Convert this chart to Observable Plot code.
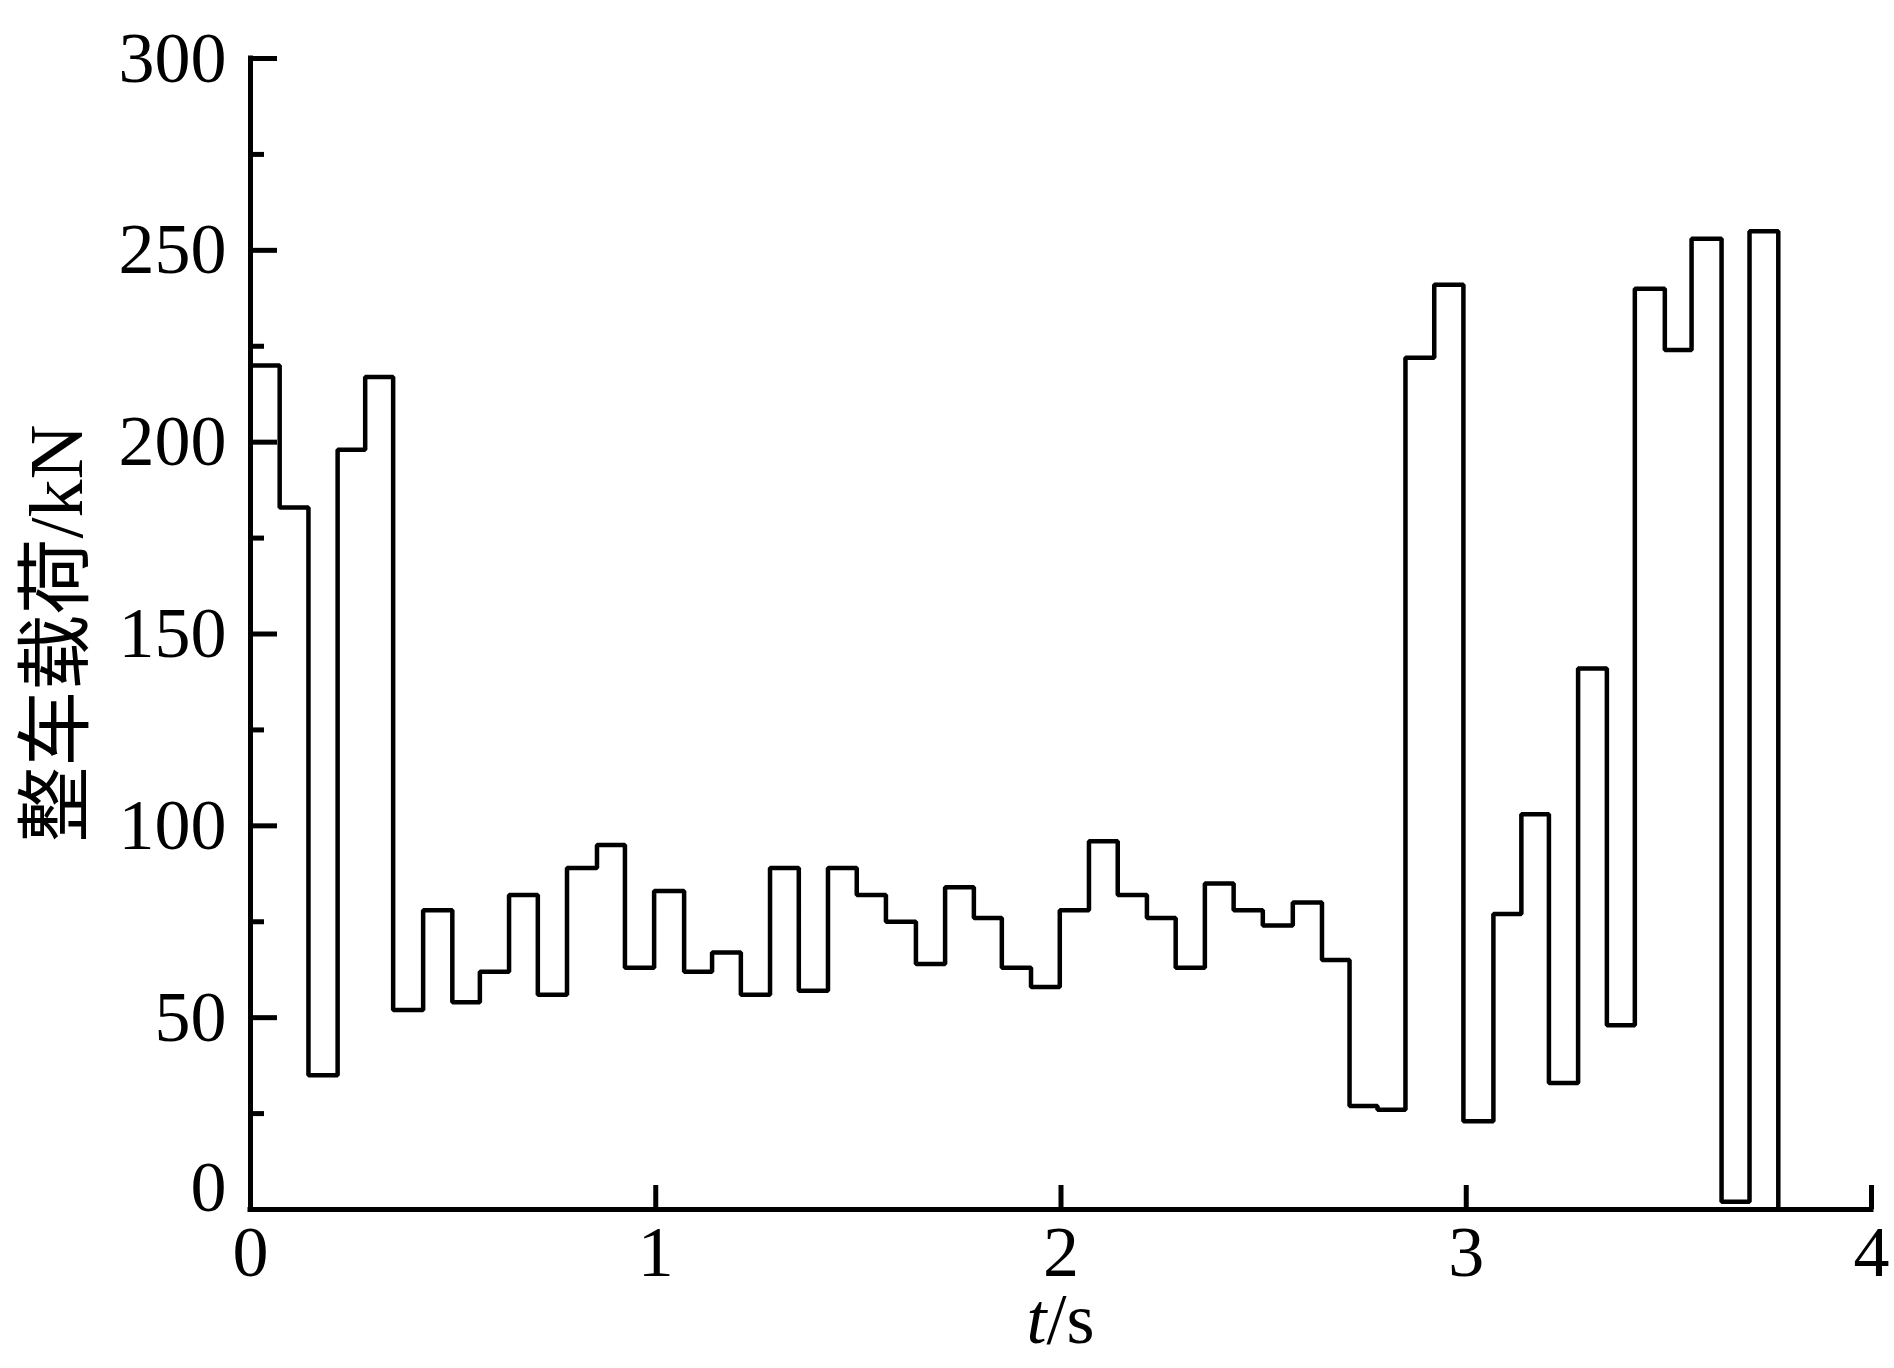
<!DOCTYPE html>
<html><head><meta charset="utf-8">
<script src="https://cdn.jsdelivr.net/npm/d3@7"></script>
<script src="https://cdn.jsdelivr.net/npm/@observablehq/plot@0.6"></script>
<style>html,body{margin:0;padding:0;background:#fff;overflow:hidden}svg{display:block}</style>
</head><body><div id="chart"></div>
<script>
// start time (s) of each constant-load step
const startTimes = [0, 0.072, 0.143, 0.215, 0.283, 0.352, 0.426, 0.498, 0.566, 0.638,
  0.709, 0.781, 0.855, 0.924, 0.996, 1.07, 1.139, 1.21, 1.282, 1.353,
  1.425, 1.496, 1.568, 1.642, 1.714, 1.785, 1.854, 1.926, 1.997, 2.069,
  2.14, 2.212, 2.283, 2.355, 2.426, 2.498, 2.572, 2.644, 2.712, 2.781,
  2.85, 2.921, 2.993, 3.067, 3.136, 3.204, 3.276, 3.347, 3.416, 3.49,
  3.556, 3.63, 3.699];
// load (kN) of each step
const loads = [220, 183, 35, 198, 217, 52, 78, 54, 62, 82,
  56, 89, 95, 63, 83, 62, 67, 56, 89, 57,
  89, 82, 75, 64, 84, 76, 63, 58, 78, 96,
  82, 76, 63, 85, 78, 74, 80, 65, 27, 26,
  222, 241, 23, 77, 103, 33, 141, 48, 240, 224,
  253, 2, 255];
const endTime = 3.77;
const endLoad = 0;

const xTicks = [0, 1, 2, 3, 4];
const xTickMarks = [1, 2, 3, 4];
const yMajor = [50, 100, 150, 200, 250, 300];
const yMinor = [25, 75, 125, 175, 225, 275];
const yZero = [0];
const yLabel = "整车载荷/kN";
const xLabelVar = "t";
const xLabelUnit = "/s";

const pts = startTimes.map((t, i) => ({t, v: loads[i]}));
pts.push({t: endTime, v: endLoad});

const FS = 72;
const SW = 4.5;
const AW = 5;
const plot = Plot.plot({
  width: 1894, height: 1368,
  marginLeft: 250, marginRight: 23, marginTop: 58, marginBottom: 159,
  x: {domain: [0, 4]},
  y: {domain: [0, 300]},
  style: {fontFamily: "'Liberation Serif', 'Noto Sans CJK SC', serif", background: "#fff", color: "#000", overflow: "visible"},
  marks: [
    Plot.line(pts, {x: "t", y: "v", curve: "step-after", stroke: "#000", strokeWidth: SW, strokeLinejoin: "miter"}),
    Plot.ruleX([0], {stroke: "#000", strokeWidth: AW, strokeLinecap: "square"}),
    Plot.ruleY([0], {stroke: "#000", strokeWidth: AW, strokeLinecap: "square"}),
    Plot.axisY({ticks: yMajor, tickSize: -27, text: null, label: null, strokeWidth: AW}),
    Plot.axisY({ticks: yMinor, tickSize: -14, text: null, label: null, strokeWidth: AW}),
    Plot.axisY({ticks: yMajor, tickSize: 0, tickPadding: 24, fontSize: FS, label: null, tickFormat: "d"}),
    Plot.axisY({ticks: yZero, tickSize: 0, tickPadding: 24, fontSize: FS, label: null, dy: -22, tickFormat: "d"}),
    Plot.axisX({ticks: xTickMarks, tickSize: -24, text: null, label: null, strokeWidth: AW}),
    Plot.axisX({ticks: xTicks, tickSize: 0, tickPadding: 15, fontSize: FS, label: null, tickFormat: "d"})
  ]
});

const svg = d3.select(plot);
const xs = plot.scale("x"), ys = plot.scale("y");
const yMid = (ys.apply(0) + ys.apply(300)) / 2;
svg.append("text")
  .attr("transform", `translate(82,${yMid}) rotate(-90)`)
  .attr("text-anchor", "middle")
  .attr("font-size", 76)
  .attr("font-family", "'Liberation Serif', 'Noto Sans CJK SC', serif")
  .attr("fill", "#000")
  .text(yLabel);
const xl = svg.append("text")
  .attr("transform", `translate(${xs.apply(2)},${ys.apply(0) + 134})`)
  .attr("text-anchor", "middle")
  .attr("font-size", FS)
  .attr("font-family", "'Liberation Serif', serif")
  .attr("fill", "#000");
xl.append("tspan").attr("font-style", "italic").text(xLabelVar);
xl.append("tspan").text(xLabelUnit);

document.getElementById("chart").appendChild(plot);
</script>
</body></html>
